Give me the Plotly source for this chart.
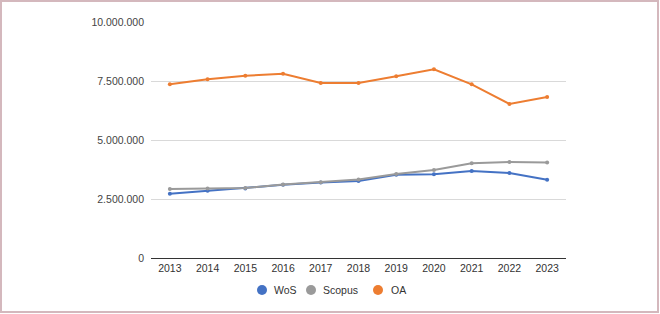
import plotly.graph_objects as go

years = ["2013", "2014", "2015", "2016", "2017", "2018", "2019", "2020", "2021", "2022", "2023"]
wos = [2720000, 2850000, 2950000, 3100000, 3200000, 3260000, 3530000, 3550000, 3690000, 3600000, 3320000]
scopus = [2920000, 2950000, 2970000, 3110000, 3210000, 3330000, 3560000, 3730000, 4010000, 4070000, 4050000]
oa = [7360000, 7570000, 7720000, 7810000, 7420000, 7420000, 7700000, 8000000, 7360000, 6530000, 6820000]
y_ticks = [0, 2500000, 5000000, 7500000, 10000000]
y_tick_text = ["0", "2.500.000", "5.000.000", "7.500.000", "10.000.000"]

series = [("WoS", wos, "#4472c4"), ("Scopus", scopus, "#9a9a9a"), ("OA", oa, "#ed7d31")]

L, R, T, B = 151, 94, 22, 56
W, H = 660, 314
pw, ph = W - L - R, H - T - B


def px_x(p):
    return (p - L) / pw


def px_y(p):
    return (H - B - p) / ph


fig = go.Figure()
for name, vals, col in series:
    fig.add_trace(go.Scatter(
        x=years, y=vals, name=name, mode="lines+markers", showlegend=False,
        line=dict(color=col, width=2),
        marker=dict(color=col, size=4),
    ))

# legend: marker centres and label starts (pixels)
legend_marker_px = [262, 311, 378]
legend_text_px = [272, 321, 389]
legend_y = 290
shapes = [dict(type="rect", xref="paper", yref="paper",
               x0=px_x(1), x1=px_x(658), y0=px_y(312), y1=px_y(1),
               line=dict(color="#d4b8bd", width=2))]
annotations = []
for (name, vals, col), mx, tx in zip(series, legend_marker_px, legend_text_px):
    shapes.append(dict(type="circle", xref="paper", yref="paper",
                       xsizemode="pixel", ysizemode="pixel",
                       xanchor=px_x(mx), yanchor=px_y(legend_y),
                       x0=-5, x1=5, y0=-5, y1=5,
                       fillcolor=col, line=dict(width=0)))
    annotations.append(dict(xref="paper", yref="paper", x=px_x(tx), y=px_y(legend_y),
                            xanchor="left", yanchor="middle", showarrow=False,
                            text=name, font=dict(size=10.5, color="#333333")))

fig.update_layout(
    width=W, height=H,
    margin=dict(l=L, r=R, t=T, b=B, autoexpand=False),
    paper_bgcolor="white", plot_bgcolor="white",
    font=dict(family="Liberation Sans, Arial, sans-serif", size=10.5, color="#444444"),
    showlegend=False,
    xaxis=dict(type="category", range=[-0.5, 10.5], showgrid=False,
               showline=True, linecolor="#333333", linewidth=1, ticks="",
               tickfont=dict(size=10.5, color="#333333")),
    yaxis=dict(range=[0, 10000000], tickvals=y_ticks, ticktext=y_tick_text,
               showgrid=True, gridcolor="#d9d9d9", gridwidth=1, zeroline=False,
               showline=False, ticks="", ticklabelstandoff=6,
               tickfont=dict(size=10.5, color="#444444")),
    shapes=shapes,
    annotations=annotations,
)

fig.write_html("out.html", config={"displayModeBar": False},
               post_script="document.body.style.margin='0';document.body.style.overflow='hidden';")
